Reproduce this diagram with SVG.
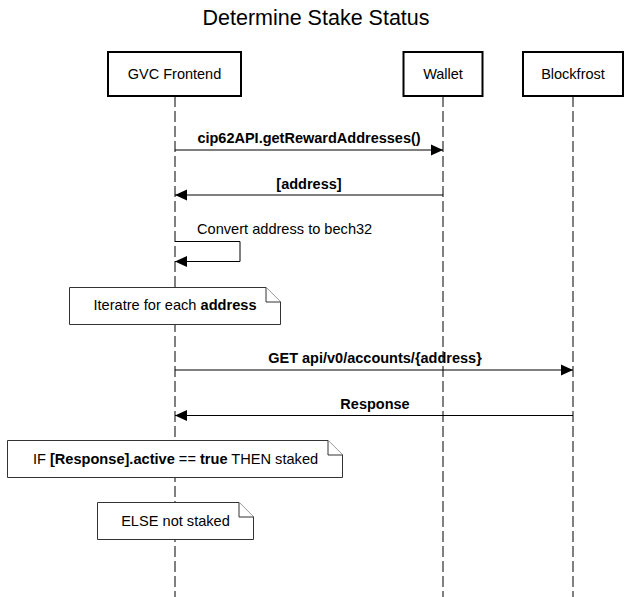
<svg xmlns="http://www.w3.org/2000/svg" width="631" height="597" viewBox="0 0 631 597">
<defs>
<style>
text{font-family:"Liberation Sans",Arial,sans-serif;fill:#000}
.title{font-size:21.5px;text-anchor:middle}
.actor rect{fill:#fff;stroke:#000;stroke-width:2}
.actor text{font-size:14.5px;text-anchor:middle}
.life{stroke:#000;stroke-width:1;stroke-dasharray:11 4;fill:none}
.msg{stroke:#000;stroke-width:1;fill:none}
.lbl{font-size:14.5px;font-weight:bold;text-anchor:middle}
.plain{font-size:14.6px}
.note path{fill:#fff;stroke:#333;stroke-width:1}
.note text{font-size:14.6px;text-anchor:middle}
</style>
<marker id="ah" viewBox="0 0 12 12" refX="12" refY="6" markerWidth="12" markerHeight="12" markerUnits="userSpaceOnUse" orient="auto">
<path d="M0,0.5 L12,6 L0,11.5 Z" fill="#000"/>
</marker>
</defs>
<rect width="631" height="597" fill="#fff"/>
<text class="title" x="316" y="25">Determine Stake Status</text>
<g id="lifelines">
<line class="life" x1="175" y1="96" x2="175" y2="597"/>
<line class="life" x1="443" y1="96" x2="443" y2="597"/>
<line class="life" x1="573" y1="96" x2="573" y2="597"/>
</g>
<g id="gvc-frontend" class="actor">
<rect x="108" y="52" width="133" height="44"/>
<text x="174.5" y="79">GVC Frontend</text>
</g>
<g id="wallet" class="actor">
<rect x="403.5" y="52" width="79" height="44"/>
<text x="443" y="79">Wallet</text>
</g>
<g id="blockfrost" class="actor">
<rect x="523" y="52" width="100" height="44"/>
<text x="573" y="79">Blockfrost</text>
</g>
<g id="connectors">
<line class="msg" x1="175" y1="150" x2="443" y2="150" marker-end="url(#ah)"/>
<text class="lbl" x="309" y="143">cip62API.getRewardAddresses()</text>
<line class="msg" x1="443" y1="195" x2="175" y2="195" marker-end="url(#ah)"/>
<text class="lbl" x="309" y="189">[address]</text>
<path class="msg" d="M175,241.5 H240 V261.5 H175" marker-end="url(#ah)"/>
<text class="plain" x="197" y="234">Convert address to bech32</text>
<line class="msg" x1="175" y1="370" x2="573" y2="370" marker-end="url(#ah)"/>
<text class="lbl" x="375" y="363">GET api/v0/accounts/{address}</text>
<line class="msg" x1="573" y1="415.5" x2="175" y2="415.5" marker-end="url(#ah)"/>
<text class="lbl" x="375" y="409">Response</text>
</g>
<g id="note-iterate" class="note">
<path d="M69.5,287.5 H266 L280.5,302 V324.5 H69.5 Z"/>
<path d="M266,287.5 V302 H280.5" fill="none"/>
<text x="175" y="310">Iteratre for each <tspan font-weight="bold">address</tspan></text>
</g>
<g id="note-if" class="note">
<path d="M7.5,440.5 H328 L342.5,455 V477.5 H7.5 Z"/>
<path d="M328,440.5 V455 H342.5" fill="none"/>
<text x="175.5" y="464">IF <tspan font-weight="bold">[Response].active</tspan> == <tspan font-weight="bold">true</tspan> THEN staked</text>
</g>
<g id="note-else" class="note">
<path d="M97.5,502.5 H239 L253.5,517 V539.5 H97.5 Z"/>
<path d="M239,502.5 V517 H253.5" fill="none"/>
<text x="175.5" y="526">ELSE not staked</text>
</g>
</svg>
